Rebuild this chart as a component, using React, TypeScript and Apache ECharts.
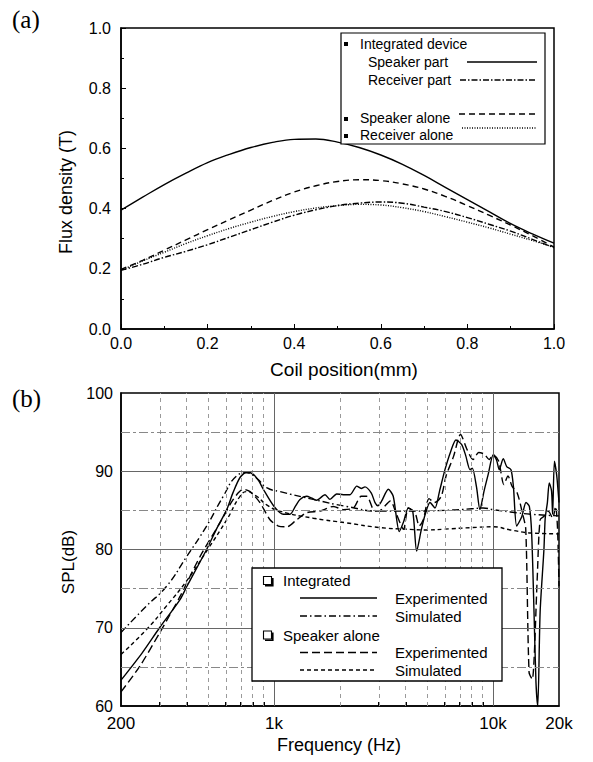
import React, { useEffect, useRef } from "react";
import * as echarts from "echarts";

// ---------- (a) Flux density vs coil position ----------
const coilPos = [0, 0.05, 0.1, 0.15, 0.2, 0.25, 0.3, 0.35, 0.4, 0.45, 0.5, 0.55, 0.6, 0.65, 0.7, 0.75, 0.8, 0.85, 0.9, 0.95, 1.0];
const speakerPart = [0.395, 0.438, 0.48, 0.518, 0.553, 0.58, 0.603, 0.62, 0.63, 0.631, 0.621, 0.603, 0.578, 0.547, 0.51, 0.47, 0.43, 0.39, 0.35, 0.316, 0.285];
const receiverPart = [0.195, 0.215, 0.238, 0.258, 0.28, 0.305, 0.33, 0.355, 0.378, 0.396, 0.41, 0.418, 0.422, 0.418, 0.405, 0.39, 0.37, 0.348, 0.325, 0.298, 0.27];
const speakerAloneFlux = [0.198, 0.228, 0.262, 0.296, 0.33, 0.363, 0.395, 0.427, 0.455, 0.476, 0.49, 0.496, 0.493, 0.482, 0.465, 0.44, 0.41, 0.378, 0.345, 0.31, 0.272];
const receiverAloneFlux = [0.195, 0.226, 0.255, 0.284, 0.31, 0.334, 0.355, 0.374, 0.39, 0.402, 0.41, 0.414, 0.412, 0.403, 0.39, 0.373, 0.355, 0.336, 0.315, 0.294, 0.272];

// ---------- (b) SPL vs frequency ----------
const intExpFreq = [200, 250, 300, 372, 400, 492, 550, 608, 650, 699, 750, 804, 850, 893, 1000, 1102, 1182, 1250, 1313, 1408, 1480, 1565, 1709, 1800, 1932, 2070, 2222, 2385, 2500, 2600, 2780, 2890, 2980, 3100, 3323, 3500, 3731, 3900, 4102, 4300, 4478, 4700, 4900, 5152, 5430, 5700, 6030, 6400, 6770, 7190, 7500, 7850, 8040, 8400, 8710, 9100, 9500, 10020, 10380, 10670, 11130, 11540, 12070, 12380, 12820, 13520, 14140, 14640, 15000, 15380, 15700, 16000, 16400, 17070, 17300, 17700, 18050, 18490, 18700, 19060, 19520, 20000];
const intExpSpl = [63.3, 66.8, 70.0, 73.6, 75.3, 80.0, 82.8, 85.1, 87.3, 89.2, 89.9, 89.6, 88.8, 87.7, 85.5, 84.5, 84.5, 85.5, 86.4, 86.8, 86.6, 86.3, 87.0, 86.4, 87.1, 87.0, 87.0, 88.1, 87.8, 88.0, 87.2, 86.0, 85.6, 86.2, 87.7, 86.8, 82.3, 83.5, 85.3, 84.8, 79.8, 82.5, 84.5, 86.0, 85.3, 87.5, 90.2, 92.5, 94.0, 93.4, 92.0, 90.2, 90.4, 88.0, 85.1, 87.5, 89.6, 92.1, 91.4, 90.2, 91.6, 90.6, 90.2, 88.1, 83.0, 84.2, 86.0, 85.5, 82.1, 72.0, 63.0, 60.0, 72.0, 80.0, 84.0, 86.0, 88.5, 87.5, 84.5, 91.3, 89.5, 86.0];

const intSimFreq = [200, 262, 323, 399, 492, 586, 675, 750, 833, 925, 1064, 1510, 2145, 3045, 4000, 6000, 8000, 9000, 10000, 12000, 15000, 20000];
const intSimSpl = [69.4, 72.8, 75.3, 79.1, 83.0, 86.8, 89.4, 89.8, 89.1, 87.9, 87.4, 86.4, 85.5, 84.9, 84.9, 85.0, 85.2, 85.3, 85.1, 84.8, 84.5, 84.3];

const spkExpFreq = [200, 244, 301, 372, 459, 566, 651, 724, 777, 862, 958, 1046, 1145, 1268, 1408, 1620, 1864, 2070, 2305, 2500, 2650, 2840, 3000, 3400, 3600, 3900, 4100, 4400, 4600, 4800, 5100, 5400, 5800, 6100, 6600, 7100, 7600, 8100, 8600, 9100, 9600, 10000, 10600, 11200, 11700, 12200, 12900, 13600, 14100, 14600, 15100, 15900, 16400, 17200, 17900, 18700, 19300, 19700, 20000];
const spkExpSpl = [61.8, 65.1, 69.4, 74.0, 79.1, 83.4, 86.4, 87.7, 87.4, 86.0, 83.8, 83.0, 82.9, 83.8, 84.7, 84.9, 85.5, 85.1, 85.3, 86.8, 86.8, 85.1, 84.9, 86.2, 84.7, 82.6, 85.3, 84.7, 83.0, 83.8, 86.5, 86.0, 86.8, 89.4, 91.9, 94.7, 92.8, 91.5, 92.4, 92.2, 91.5, 92.1, 91.3, 88.3, 89.4, 88.1, 87.2, 84.7, 82.6, 64.3, 63.4, 76.2, 83.8, 84.3, 84.9, 84.0, 85.5, 82.6, 75.3];

const spkSimFreq = [200, 262, 323, 399, 492, 608, 699, 750, 833, 925, 1064, 1510, 2145, 3045, 4000, 5000, 6000, 8000, 10000, 12000, 15000, 20000];
const spkSimSpl = [66.6, 69.8, 72.8, 76.0, 79.8, 83.8, 86.8, 87.4, 86.8, 85.7, 84.9, 84.0, 83.4, 82.8, 82.6, 82.5, 82.6, 82.8, 82.9, 82.5, 82.1, 82.0];

const freqMinorGrid = [300, 400, 500, 600, 700, 800, 900, 2000, 3000, 4000, 5000, 6000, 7000, 8000, 9000];
const freqMajorGrid = [1000, 10000];
const splMajorGrid = [70, 80, 90];
const splMinorGrid = [65, 75, 85, 95];
const freqLabelValues = [200, 1000, 10000, 20000];
const freqLabelTexts = ["200", "1k", "10k", "20k"];

const lg = (f: number) => Math.log10(f);
const FONT = '"Liberation Sans", Arial, sans-serif';

function txt(text: string, x: number, y: number, size: number, align = "left", rotation = 0, family = FONT) {
  return {
    type: "text",
    x,
    y,
    rotation,
    z: 20,
    style: {
      text,
      fill: "#000",
      font: `${size}px ${family}`,
      textAlign: align,
      align,
      textVerticalAlign: "middle",
      verticalAlign: "middle",
    },
  };
}
function seg(x1: number, y1: number, x2: number, y2: number, dash: any = null, w = 1.3) {
  return {
    type: "line",
    z: 20,
    shape: { x1, y1, x2, y2 },
    style: { stroke: "#000", lineWidth: w, lineDash: dash },
  };
}

export default function App() {
  const ref = useRef<HTMLDivElement>(null);
  useEffect(() => {
    if (!ref.current) return;
    const chart = echarts.init(ref.current, null, { renderer: "svg" });
    const axisLine = { show: true, lineStyle: { color: "#000", width: 1.5 } };
    const lbl = { color: "#000", fontSize: 16, fontFamily: FONT };
    const fluxLine = (name: string, data: number[], type: any) => ({
      name,
      type: "line",
      xAxisIndex: 0,
      yAxisIndex: 0,
      smooth: 0.4,
      showSymbol: false,
      z: 3,
      lineStyle: { color: "#000", width: 1.4, type },
      data: coilPos.map((x, i) => [x, data[i]]),
    });
    const splLine = (name: string, f: number[], s: number[], type: any, smooth: any) => ({
      name,
      type: "line",
      xAxisIndex: 1,
      yAxisIndex: 1,
      smooth,
      showSymbol: false,
      z: 3,
      lineStyle: { color: "#000", width: 1.4, type },
      data: f.map((v, i) => [lg(v), s[i]]),
    });
    const option: any = {
      animation: false,
      backgroundColor: "#fff",
      grid: [
        { left: 121, top: 28, width: 433, height: 301, show: true, borderColor: "#000", borderWidth: 1.5 },
        { left: 121, top: 393, width: 438, height: 313, show: true, borderColor: "#000", borderWidth: 1.5 },
      ],
      xAxis: [
        {
          type: "value", gridIndex: 0, min: 0, max: 1, interval: 0.2,
          axisLine, splitLine: { show: false },
          axisTick: { show: true, inside: true, length: 5, lineStyle: { color: "#000" } },
          minorTick: { show: true, splitNumber: 2, length: 3, lineStyle: { color: "#000" } },
          axisLabel: { ...lbl, margin: 6, formatter: (v: number) => v.toFixed(1) },
        },
        {
          type: "value", gridIndex: 1, min: lg(200), max: lg(20000),
          axisLine, splitLine: { show: false },
          axisTick: { show: true, inside: true, length: 4, lineStyle: { color: "#000" }, customValues: [...freqMinorGrid, ...freqMajorGrid].map(lg) },
          axisLabel: {
            ...lbl, fontSize: 17, margin: 9, showMinLabel: true, showMaxLabel: true,
            customValues: freqLabelValues.map(lg),
            formatter: (v: number) => {
              const i = freqLabelValues.findIndex((f) => Math.abs(lg(f) - v) < 1e-6);
              return i >= 0 ? freqLabelTexts[i] : "";
            },
          },
        },
      ],
      yAxis: [
        {
          type: "value", gridIndex: 0, min: 0, max: 1, interval: 0.2,
          axisLine, splitLine: { show: false },
          axisTick: { show: true, inside: true, length: 5, lineStyle: { color: "#000" } },
          minorTick: { show: true, splitNumber: 2, length: 3, lineStyle: { color: "#000" } },
          axisLabel: { ...lbl, margin: 10, formatter: (v: number) => v.toFixed(1) },
        },
        {
          type: "value", gridIndex: 1, min: 60, max: 100, interval: 10,
          axisLine, splitLine: { show: false }, axisTick: { show: false },
          axisLabel: { ...lbl, margin: 8 },
        },
      ],
      series: [
        {
          type: "line", xAxisIndex: 1, yAxisIndex: 1, data: [], silent: true, z: 1,
          markLine: {
            silent: true, symbol: ["none", "none"], label: { show: false },
            data: [
              ...freqMinorGrid.map((f) => ({ xAxis: lg(f), lineStyle: { color: "#9a9a9a", width: 1, type: [4, 4] } })),
              ...freqMajorGrid.map((f) => ({ xAxis: lg(f), lineStyle: { color: "#666", width: 1, type: "solid" } })),
              ...splMinorGrid.map((v) => ({ yAxis: v, lineStyle: { color: "#888", width: 1, type: [9, 3, 3, 3] } })),
              ...splMajorGrid.map((v) => ({ yAxis: v, lineStyle: { color: "#666", width: 1, type: "solid" } })),
            ],
          },
        },
        fluxLine("Speaker part", speakerPart, "solid"),
        fluxLine("Receiver part", receiverPart, [6, 2, 1.5, 2]),
        fluxLine("Speaker alone", speakerAloneFlux, [6, 4]),
        fluxLine("Receiver alone", receiverAloneFlux, [1, 1.5]),
        splLine("Integrated Experimented", intExpFreq, intExpSpl, "solid", 0.25),
        splLine("Integrated Simulated", intSimFreq, intSimSpl, [7, 3, 1.5, 3], true),
        splLine("Speaker alone Experimented", spkExpFreq, spkExpSpl, [8, 4], 0.25),
        splLine("Speaker alone Simulated", spkSimFreq, spkSimSpl, [4, 3], true),
      ],
      graphic: [
        txt("(a)", 12, 19, 25, "left", 0, '"Liberation Serif", "Times New Roman", serif'),
        txt("(b)", 12, 398, 25, "left", 0, '"Liberation Serif", "Times New Roman", serif'),
        txt("Flux density (T)", 66, 192, 18, "center", Math.PI / 2),
        txt("Coil position(mm)", 344, 369, 19, "center"),
        txt("SPL(dB)", 68, 562, 17, "center", Math.PI / 2),
        txt("Frequency (Hz)", 339, 745, 18, "center"),
        // legend (a)
        { type: "rect", z: 15, shape: { x: 341, y: 33, width: 204, height: 111 }, style: { fill: "#fff", stroke: "#000", lineWidth: 1.2 } },
        { type: "rect", z: 20, shape: { x: 344, y: 42, width: 4, height: 4 }, style: { fill: "#000" } },
        { type: "rect", z: 20, shape: { x: 344, y: 117, width: 4, height: 4 }, style: { fill: "#000" } },
        { type: "rect", z: 20, shape: { x: 344, y: 134, width: 4, height: 4 }, style: { fill: "#000" } },
        txt("Integrated device", 360, 44, 14),
        txt("Speaker part", 368, 62, 14),
        txt("Receiver part", 368, 80, 14),
        txt("Speaker alone", 360, 118, 14),
        txt("Receiver alone", 360, 135, 14),
        seg(467, 62, 537, 62, null),
        seg(460, 80, 537, 80, [6, 2, 1.5, 2]),
        seg(459, 114, 537, 114, [6, 4]),
        seg(462, 128, 537, 128, [1, 1.5]),
        // legend (b)
        { type: "rect", z: 15, shape: { x: 252, y: 568, width: 250, height: 113 }, style: { fill: "#fff", stroke: "#000", lineWidth: 1.3 } },
        { type: "rect", z: 20, shape: { x: 263.5, y: 576.5, width: 8, height: 8 }, style: { fill: "#fff", stroke: "#000", lineWidth: 1.1 } },
        { type: "polyline", z: 20, shape: { points: [[265, 585.8], [272.8, 585.8], [272.8, 578]] }, style: { fill: "none", stroke: "#000", lineWidth: 1.6 } },
        { type: "rect", z: 20, shape: { x: 263.5, y: 631, width: 8, height: 8 }, style: { fill: "#fff", stroke: "#000", lineWidth: 1.1 } },
        { type: "polyline", z: 20, shape: { points: [[265, 640.3], [272.8, 640.3], [272.8, 632.5]] }, style: { fill: "none", stroke: "#000", lineWidth: 1.6 } },
        txt("Integrated", 283, 580.5, 15),
        txt("Speaker alone", 283, 635.5, 15),
        txt("Experimented", 395, 598, 15),
        txt("Simulated", 395, 616, 15),
        txt("Experimented", 395, 652.5, 15),
        txt("Simulated", 395, 670, 15),
        seg(300, 598, 377, 598, null, 1.4),
        seg(300, 616, 377, 616, [7, 3, 1.5, 3], 1.4),
        seg(300, 652.5, 377, 652.5, [8, 4], 1.4),
        seg(300, 670, 377, 670, [4, 3], 1.4),
      ],
    };
    chart.setOption(option);
    return () => chart.dispose();
  }, []);
  return <div ref={ref} style={{ position: "fixed", left: 0, top: 0, width: 593, height: 762 }} />;
}
